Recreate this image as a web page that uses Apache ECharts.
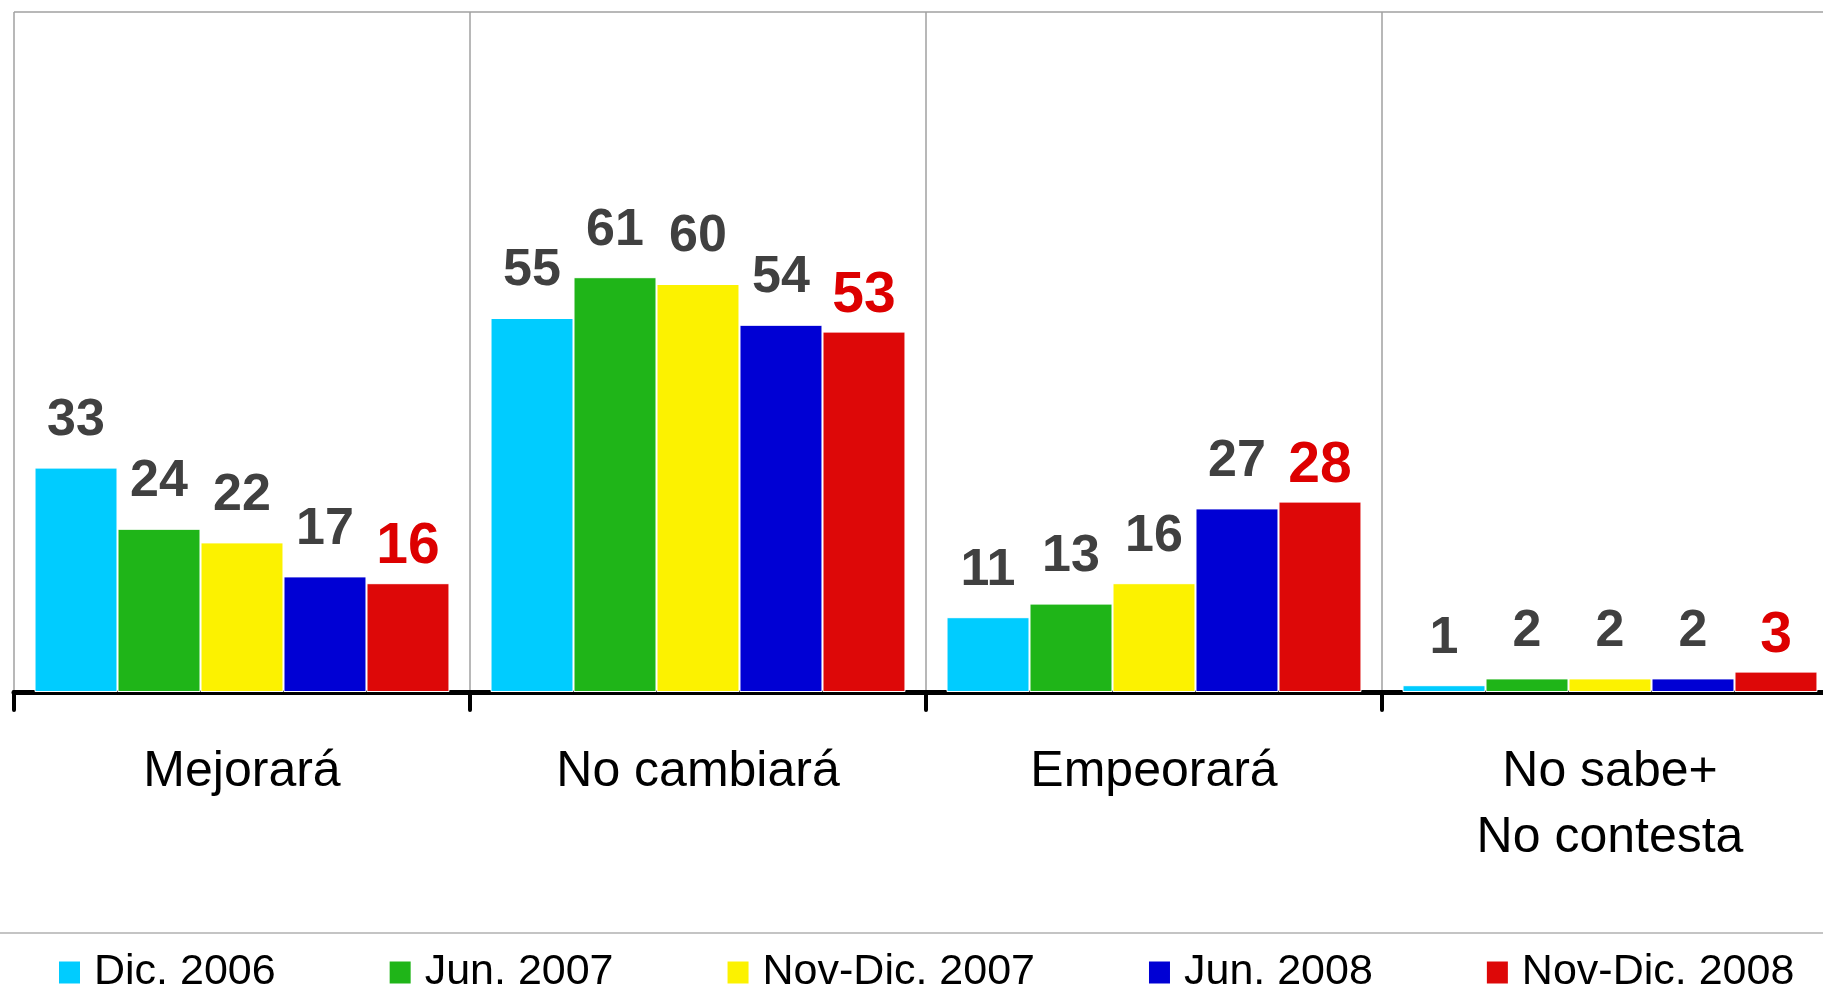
<!DOCTYPE html>
<html>
<head>
<meta charset="utf-8">
<title>Expectativas</title>
<script src="https://cdn.jsdelivr.net/npm/echarts@6/dist/echarts.min.js"></script>
<style>
    html, body { margin: 0; padding: 0; background: #fff; overflow: hidden; }
    /* the plot area runs a little past the right edge of the window, as in the original */
    #chart { width: 1840px; height: 1003px; }
</style>
</head>
<body>
<div id="chart"></div>
<script>
// Categories and survey waves
const categories = ['Mejorará', 'No cambiará', 'Empeorará', 'No sabe+\nNo contesta'];
const waves = ['Dic. 2006', 'Jun. 2007', 'Nov-Dic. 2007', 'Jun. 2008', 'Nov-Dic. 2008'];

// Values per wave (%)
const dic2006 = [33, 55, 11, 1];
const jun2007 = [24, 61, 13, 2];
const novDic2007 = [22, 60, 16, 2];
const jun2008 = [17, 54, 27, 2];
const novDic2008 = [16, 53, 28, 3];

const waveValues = [dic2006, jun2007, novDic2007, jun2008, novDic2008];
const waveColors = ['#00CCFF', '#1FB518', '#FCF200', '#0000D4', '#DD0808'];

const FONT = '"Liberation Sans", Arial, sans-serif';

const chart = echarts.init(document.getElementById('chart'));

const series = waves.map((name, i) => {
    const isLast = i === waves.length - 1;
    return {
        name: name,
        type: 'bar',
        barGap: '0%',
        barCategoryGap: '9%',
        data: waveValues[i],
        itemStyle: { color: waveColors[i], borderColor: '#fff', borderWidth: 1 },
        label: {
            show: true,
            position: 'top',
            distance: isLast ? 7 : 21,
            fontFamily: FONT,
            fontWeight: 'bold',
            fontSize: isLast ? 57 : 52,
            color: isLast ? '#DD0000' : '#404040'
        }
    };
});

chart.setOption({
    animation: false,
    backgroundColor: '#fff',
    grid: { left: 14, top: 12, width: 1824, height: 680 },
    legend: {
        data: waves,
        left: 52,
        top: 946,
        icon: 'rect',
        itemWidth: 23,
        itemHeight: 24,
        itemGap: 112,
        textStyle: { fontFamily: FONT, fontSize: 43, color: '#000', padding: [0, 0, 0, 8] }
    },
    xAxis: {
        type: 'category',
        data: categories,
        axisLine: { lineStyle: { color: '#000', width: 5, cap: 'round' } },
        axisTick: { show: true, length: 18, lineStyle: { color: '#000', width: 4, cap: 'round' } },
        splitLine: { show: true, lineStyle: { color: '#A0A0A0', width: 1.5 } },
        axisLabel: {
            margin: 47,
            fontFamily: FONT,
            fontSize: 50,
            lineHeight: 66,
            color: '#000',
            verticalAlign: 'top'
        }
    },
    yAxis: {
        type: 'value',
        min: 0,
        max: 100,
        interval: 100,
        axisLabel: { show: false },
        axisLine: { show: false },
        axisTick: { show: false },
        splitLine: { show: true, lineStyle: { color: '#A0A0A0', width: 1.5 } }
    },
    graphic: [{
        type: 'line',
        shape: { x1: 0, y1: 933, x2: 1840, y2: 933 },
        style: { stroke: '#C4C4C4', lineWidth: 2 }
    }],
    series: series
});
</script>
</body>
</html>
